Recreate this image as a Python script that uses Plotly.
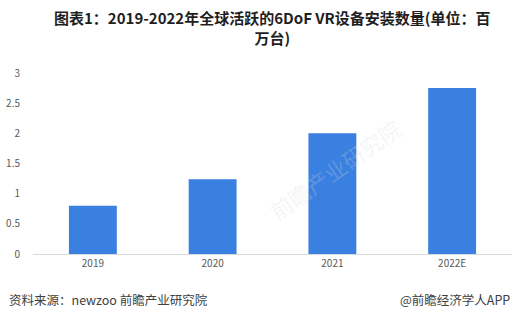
import plotly.graph_objects as go

categories = ["2019", "2020", "2021", "2022E"]
values = [0.80, 1.24, 2.00, 2.75]
tick_vals = [0, 0.5, 1, 1.5, 2, 2.5, 3]
tick_text = ["0", "0.5", "1", "1.5", "2", "2.5", "3"]

title_text = "图表1：2019-2022年全球活跃的6DoF VR设备安装数量(单位：百<br>万台)"
source_text = "资料来源：newzoo 前瞻产业研究院"
credit_text = "@前瞻经济学人APP"

font_family = "Noto Sans CJK SC, Microsoft YaHei, sans-serif"

fig = go.Figure(
    go.Bar(
        x=categories,
        y=values,
        marker=dict(color="#3a80e0", line=dict(width=0)),
        width=0.4,
    )
)

fig.update_layout(
    width=516,
    height=323,
    margin=dict(l=33, r=4, t=73, b=69),
    paper_bgcolor="white",
    plot_bgcolor="white",
    showlegend=False,
    font=dict(family=font_family, color="#595959", size=11),
    xaxis=dict(
        showgrid=False,
        showline=True,
        linecolor="#d9d9d9",
        linewidth=1,
        ticks="",
        tickfont=dict(size=10, color="#595959"),
    ),
    yaxis=dict(
        range=[0, 3],
        tickvals=tick_vals,
        ticktext=tick_text,
        showgrid=False,
        zeroline=False,
        showline=False,
        ticks="",
        ticklabelstandoff=12,
        tickfont=dict(size=10, color="#595959"),
    ),
    annotations=[
        dict(
            text="<b>" + title_text + "</b>",
            x=0.5, y=1, xref="paper", yref="paper",
            xanchor="center", yanchor="top",
            yshift=68,
            showarrow=False,
            font=dict(size=15, color="#1f1f1f", family=font_family),
            align="center",
        ),
        dict(
            text=source_text,
            x=0, y=0, xref="paper", yref="paper",
            xanchor="left", yanchor="middle",
            xshift=-26, yshift=-45,
            showarrow=False,
            font=dict(size=12.5, color="#404040", family=font_family),
        ),
        dict(
            text=credit_text,
            x=1, y=0, xref="paper", yref="paper",
            xanchor="right", yanchor="middle",
            xshift=0, yshift=-45,
            showarrow=False,
            font=dict(size=12.5, color="#404040", family=font_family),
        ),
        dict(
            text="前瞻产业研究院",
            x=0.63, y=0.80, xref="paper", yref="paper",
            showarrow=False,
            textangle=-35,
            font=dict(size=22, color="rgba(215,215,215,0.25)", family=font_family),
        ),
    ],
)

fig.write_html("out.html")
